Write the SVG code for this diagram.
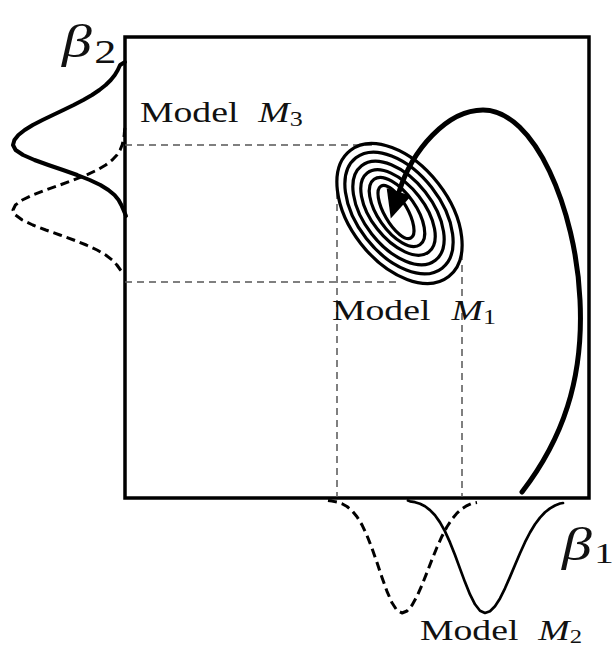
<svg xmlns="http://www.w3.org/2000/svg" width="615" height="649" viewBox="0 0 615 649">
<style>
.frame{fill:none;stroke:#000;stroke-width:3.5}
.guide{fill:none;stroke:#555;stroke-width:1.5;stroke-dasharray:7 5}
.ring{fill:none;stroke:#000;stroke-width:3.2}
.solid{fill:none;stroke:#000;stroke-linejoin:round;stroke-linecap:round}
.dash{fill:none;stroke:#000;stroke-width:3;stroke-dasharray:9 5;stroke-linejoin:round}
.lbl{font-family:"Liberation Serif","Times New Roman",serif;fill:#111}
</style>
<defs>
<marker id="head" markerUnits="userSpaceOnUse" markerWidth="30" markerHeight="30" refX="0" refY="0" viewBox="0 -13 28 26" orient="auto">
<path d="M0,-12 L26,0 L0,12 z" fill="#000"/>
</marker>
</defs>
<g id="frame"><rect class="frame" x="125" y="37" width="464" height="461"/></g>
<g id="guides">
<line class="guide" x1="125" y1="145" x2="377" y2="145"/>
<line class="guide" x1="125" y1="282" x2="400" y2="282"/>
<line class="guide" x1="337" y1="180" x2="337" y2="497"/>
<line class="guide" x1="462" y1="253" x2="462" y2="497"/>
</g>
<g id="model-m1">
<ellipse class="ring" cx="399.5" cy="213.5" rx="80" ry="49" transform="rotate(52 399.5 213.5)"/>
<ellipse class="ring" cx="399" cy="213" rx="70" ry="41.5" transform="rotate(52 399 213)"/>
<ellipse class="ring" cx="398.5" cy="213" rx="60" ry="34" transform="rotate(52 398.5 213)"/>
<ellipse class="ring" cx="398" cy="212.5" rx="50" ry="26.5" transform="rotate(52 398 212.5)"/>
<ellipse class="ring" cx="397" cy="212" rx="40" ry="19" transform="rotate(55 397 212)"/>
<ellipse class="ring" cx="396" cy="212" rx="30" ry="11.5" transform="rotate(60 396 212)"/>
<text class="lbl" transform="translate(332,320) scale(1.3,1)" font-size="29">Model <tspan dx="9" font-style="italic">M</tspan><tspan font-size="20" dy="4">1</tspan></text>
</g>
<g id="model-m3">
<path class="solid" stroke-width="4" d="M125,62 L120.1,65 L117.8,70 L114.8,75 L110.8,80 L105.7,85 L99.4,90 L92,95 L83.3,100 L73.7,105 L63.4,110 L52.9,115 L42.5,120 L32.8,125 L24.7,130 L18.4,135 L14.4,140 L13,145 L15.6,150 L23.1,155 L34.5,160 L48.3,165 L63,170 L77.2,175 L89.8,180 L100.4,185 L108.4,190 L114.5,195 L118.6,200 L121.3,205 L123.5,210 L126,216"/>
<path class="dash" d="M125,128 L124.6,130 L124.2,135 L123.4,140 L122.1,145 L120.1,150 L116.9,155 L112.2,160 L105.7,165 L97.1,170 L86.3,175 L73.7,180 L59.9,185 L45.8,190 L32.8,195 L22.3,200 L15.4,205 L13,210 L15.4,215 L22.3,220 L32.8,225 L45.8,230 L59.9,235 L73.7,240 L86.3,245 L97.1,250 L105.7,255 L112.2,260 L116.9,265 L120.5,270 L124,274"/>
<text class="lbl" transform="translate(140,122) scale(1.3,1)" font-size="29">Model <tspan dx="8" font-style="italic">M</tspan><tspan font-size="20" dy="4">3</tspan></text>
</g>
<g id="model-m2">
<path class="solid" stroke-width="2.7" d="M408,500.5 L410,501.3 L415,502.2 L420,503.8 L425,506.3 L430,510.1 L435,515.3 L440,522.4 L445,531.4 L450,542.4 L455,555 L460,568.6 L465,582.1 L470,594.4 L475,604.3 L480,610.8 L485,613 L490,611.3 L495,606.2 L500,598.4 L505,588.3 L510,576.9 L515,564.9 L520,553.2 L525,542.2 L530,532.5 L535,524.3 L540,517.6 L545,512.3 L550,508.4 L555,505.5 L560,503.5 L563,503"/>
<path class="dash" d="M328,500.5 L332,501.1 L337,502.1 L342,503.7 L347,506.5 L352,510.6 L357,516.7 L362,524.9 L367,535.5 L372,548.3 L377,562.6 L382,577.4 L387,591.3 L392,602.8 L397,610.4 L402,613 L407,611 L412,605.2 L417,596.3 L422,585 L427,572.4 L432,559.5 L437,547.2 L442,536.2 L447,526.7 L452,519.1 L457,513.1 L462,508.7 L467,505.6 L472,503.4 L477,502.5"/>
<text class="lbl" transform="translate(420,640) scale(1.3,1)" font-size="29">Model <tspan dx="8" font-style="italic">M</tspan><tspan font-size="19" dy="3">2</tspan></text>
</g>
<g id="axis-labels">
<text class="lbl" transform="translate(62,57) scale(1.3,1)" font-size="46" font-style="italic">β<tspan dx="2" dy="6" font-style="normal" font-size="34">2</tspan></text>
<text class="lbl" transform="translate(562,560) scale(1.3,1)" font-size="46" font-style="italic">β<tspan dx="2" dy="3" font-style="normal" font-size="30">1</tspan></text>
</g>
<g id="connectors">
<path fill="none" stroke="#000" stroke-width="5" stroke-linecap="round" marker-end="url(#head)" d="M522,492 C562,440 584,380 580,300 C576,210 535,110 483,110 C447,110 412,150 399,192"/>
</g>
</svg>
